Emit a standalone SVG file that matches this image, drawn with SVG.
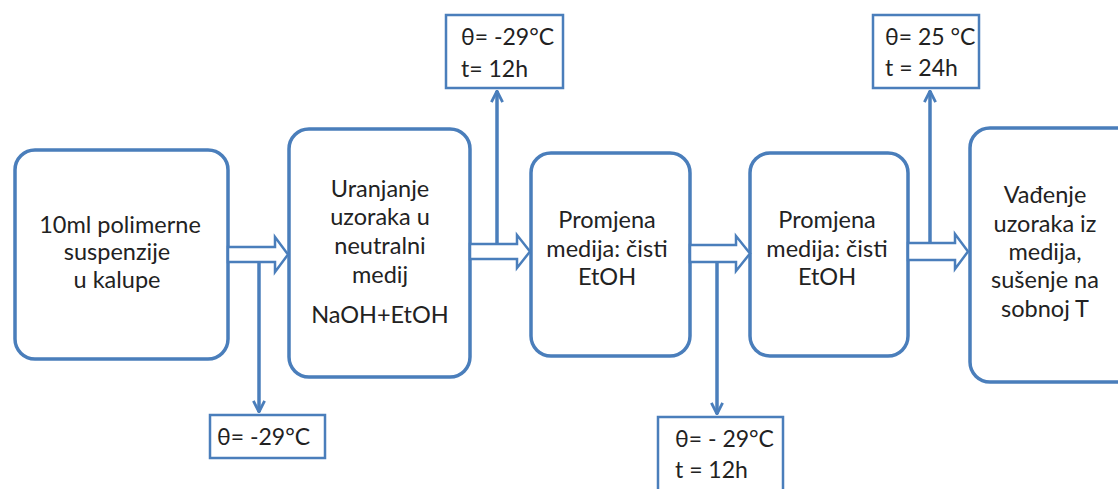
<svg xmlns="http://www.w3.org/2000/svg" width="1118" height="489" viewBox="0 0 1118 489">
<style>
.box{fill:#fff;stroke:#4a7ebb;stroke-width:3.5}
.sbox{fill:#fff;stroke:#4a7ebb;stroke-width:2.5}
.ln{stroke:#4a7ebb;stroke-width:3.5;fill:none}
.blk{fill:#fff;stroke:#4a7ebb;stroke-width:2.5;stroke-linejoin:miter}
text{font-family:Lato,"Open Sans","Liberation Sans",sans-serif;font-size:23.5px;fill:#222}
.s{font-size:23px}
.c{text-anchor:middle}
</style>
<defs>
<marker id="ah" viewBox="0 0 10 10" refX="9" refY="5" markerWidth="4" markerHeight="4" orient="auto" markerUnits="strokeWidth">
<path d="M1 1 L9 5 L1 9" fill="none" stroke="#4a7ebb" stroke-width="2"/>
</marker>
</defs>
<g id="n1"><rect class="box" x="15" y="150" width="213" height="209" rx="20"/>
<text class="c" x="120" y="233">10ml polimerne</text><text class="c" x="117" y="260">suspenzije</text><text class="c" x="117" y="288">u kalupe</text></g>
<g id="n2"><rect class="box" x="289" y="129" width="181" height="248" rx="20"/>
<text class="c" x="380" y="197">Uranjanje</text><text class="c" x="380" y="225">uzoraka u</text><text class="c" x="380" y="254">neutralni</text><text class="c" x="380" y="283">medij</text><text class="c" x="380" y="323">NaOH+EtOH</text></g>
<g id="n3"><rect class="box" x="531" y="153" width="159" height="203" rx="20"/>
<text class="c" x="607" y="228">Promjena</text><text class="c" x="607" y="257">medija: čisti</text><text class="c" x="607" y="285">EtOH</text></g>
<g id="n4"><rect class="box" x="750" y="153" width="158" height="203" rx="20"/>
<text class="c" x="827" y="228">Promjena</text><text class="c" x="827" y="257">medija: čisti</text><text class="c" x="827" y="285">EtOH</text></g>
<g id="n5"><rect class="box" x="970" y="128" width="170" height="254" rx="20"/>
<text class="c" x="1045" y="203">Vađenje</text><text class="c" x="1045" y="232">uzoraka iz</text><text class="c" x="1045" y="260">medija,</text><text class="c" x="1045" y="288">sušenje na</text><text class="c" x="1045" y="317">sobnoj T</text></g>
<g id="c1"><rect class="sbox" x="210" y="415" width="115" height="43"/><text class="s" x="217" y="445">θ= -29°C</text></g>
<g id="c2"><rect class="sbox" x="446" y="15" width="117" height="73"/><text class="s" x="461" y="45">θ= -29°C</text><text class="s" x="461" y="77">t= 12h</text></g>
<g id="c3"><rect class="sbox" x="658" y="417" width="125" height="80"/><text class="s" x="675" y="447">θ= - 29°C</text><text class="s" x="675" y="478">t = 12h</text></g>
<g id="c4"><rect class="sbox" x="873" y="15" width="106" height="73"/><text class="s" x="885" y="45">θ= 25 °C</text><text class="s" x="885" y="76">t = 24h</text></g>
<g id="connectors">
<path class="blk" d="M228 247 H275 V237 L288 254.5 L275 272 V262 H228 Z"/>
<path class="blk" d="M470 244 H517 V235 L530 251.5 L517 268 V259 H470 Z"/>
<path class="blk" d="M690 245 H736 V236 L750 253.5 L736 271 V262 H690 Z"/>
<path class="blk" d="M908 243 H955 V234 L968 251.5 L955 269 V260 H908 Z"/>
<line class="ln" x1="259" y1="262" x2="259" y2="412" marker-end="url(#ah)"/>
<line class="ln" x1="497" y1="244" x2="497" y2="91" marker-end="url(#ah)"/>
<line class="ln" x1="717" y1="262" x2="717" y2="414" marker-end="url(#ah)"/>
<line class="ln" x1="930" y1="243" x2="930" y2="91" marker-end="url(#ah)"/>
</g>
</svg>
